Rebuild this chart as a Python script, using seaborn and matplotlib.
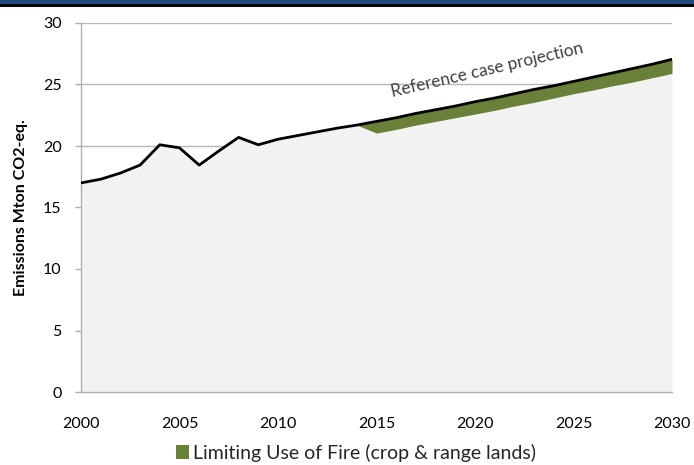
import matplotlib
matplotlib.use("Agg")
import matplotlib.pyplot as plt
from matplotlib.patches import Rectangle, Patch
import numpy as np
import pandas as pd
import seaborn as sns

# Reference-case emissions (Mton CO2-eq.), historical 2000-2014 and projection to 2030
years = list(range(2000, 2031))
reference_case = [17.0, 17.3, 17.8, 18.45, 20.1, 19.85, 18.45, 19.6, 20.7, 20.1,
                  20.55, 20.85, 21.15, 21.45, 21.7,
                  22.0, 22.3, 22.65, 22.95, 23.25, 23.6, 23.9, 24.25, 24.6, 24.9,
                  25.25, 25.6, 25.95, 26.3, 26.65, 27.05]

# Emissions with the fire-limiting measure applied, from 2014 onward
measure_years = list(range(2014, 2031))
with_fire_limits = [21.7, 21.05, 21.35, 21.7, 22.0, 22.3, 22.6, 22.9, 23.25, 23.55,
                    23.9, 24.25, 24.55, 24.9, 25.2, 25.55, 25.9]

measure_label = "Limiting Use of Fire (crop & range lands)"
ylabel = "Emissions Mton CO2-eq."
projection_note = "Reference case projection"
y_ticks = [0, 5, 10, 15, 20, 25, 30]
x_ticks = [2000, 2005, 2010, 2015, 2020, 2025, 2030]

GREEN = "#6a7f38"
BASE = "#f2f2f2"

sns.set_theme(style="white")
plt.rcParams["font.family"] = ["Lato", "DejaVu Sans"]

df = pd.DataFrame({"year": years, "reference": reference_case})
mdf = pd.DataFrame({"year": measure_years, "lower": with_fire_limits})
mdf = mdf.merge(df, on="year")

fig = plt.figure(figsize=(6.94, 4.65), dpi=100)
ax = fig.add_axes([81 / 694, 1 - 392 / 465, (672 - 81) / 694, (392 - 23) / 465])

# Grey base area: reference until 2014, then the reduced pathway
hist = df[df["year"] <= 2014]
base_x = list(hist["year"]) + list(mdf["year"])[1:]
base_y = list(hist["reference"]) + list(mdf["lower"])[1:]
ax.fill_between(base_x, 0, base_y, color=BASE, linewidth=0, zorder=2)

# Green wedge: reduction from limiting fire use
ax.fill_between(mdf["year"], mdf["lower"], mdf["reference"], color=GREEN,
                linewidth=0, zorder=3)

# Reference-case line
sns.lineplot(data=df, x="year", y="reference", color="black", linewidth=2.0,
             ax=ax, zorder=4)

ax.set_xlim(2000, 2030)
ax.set_ylim(0, 30)
ax.set_xticks(x_ticks)
ax.set_yticks(y_ticks)
ax.set_xticklabels([str(t) for t in x_ticks], fontsize=11.5)
ax.set_yticklabels([str(t) for t in y_ticks], fontsize=11.5)
ax.yaxis.grid(True, color="#b8b8b8", linewidth=1.0, zorder=0)
ax.xaxis.grid(False)
ax.set_axisbelow(True)

for side in ("top", "right"):
    ax.spines[side].set_visible(False)
for side in ("left", "bottom"):
    ax.spines[side].set_color("#b0b0b0")
    ax.spines[side].set_linewidth(1.0)

ax.tick_params(axis="y", which="major", left=True, length=4, width=1,
               color="#b0b0b0", pad=10, labelcolor="black")
ax.tick_params(axis="x", which="major", bottom=False, pad=12, labelcolor="black")

ax.set_xlabel("")
ax.set_ylabel(ylabel, fontsize=11.5, fontweight="bold", labelpad=11, color="black")

ax.text(2020.6, 26.15, projection_note, rotation=13, fontsize=12.4,
        color="#404040", ha="center", va="center", zorder=5)

handle = Patch(facecolor=GREEN, edgecolor="none")
fig.legend([handle], [measure_label], loc="center", bbox_to_anchor=(0.513, 1 - 453 / 465),
           frameon=False, fontsize=14, handlelength=0.7, handleheight=0.7,
           handletextpad=0.2, borderaxespad=0, borderpad=0)

# Title-bar strip across the top edge
fig.patches.append(Rectangle((0, 1 - 4 / 465), 1, 4 / 465, transform=fig.transFigure,
                             facecolor="#1f497d", edgecolor="none", zorder=10))
fig.patches.append(Rectangle((0, 1 - 7 / 465), 1, 3 / 465, transform=fig.transFigure,
                             facecolor="black", edgecolor="none", zorder=10))

fig.savefig("out.png", dpi=100)
